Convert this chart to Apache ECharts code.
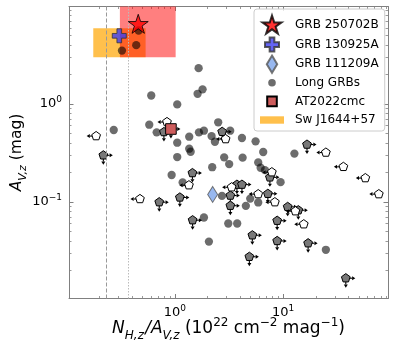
<!DOCTYPE html>
<html>
<head>
<meta charset="utf-8">
<script src="https://cdn.jsdelivr.net/npm/echarts@6/dist/echarts.min.js"></script>
<style>
  html, body { margin: 0; padding: 0; background: #fff; }
  #chart { width: 397px; height: 353px; }
</style>
</head>
<body>
<div id="chart"></div>
<script>
// values: [N_H,z / A_V,z, A_V,z]
const grb250702B = [[0.458, 6.59]];
const grb130925A = [[0.306, 4.97]];
const grb111209A = [[2.23, 0.119]];
const at2022cmc = [[0.918, 0.555]];

const longGrbs = [
  [0.462, 5.63], [0.439, 3.99], [0.324, 3.51],
  [1.655, 2.32], [1.80, 1.41], [1.62, 1.27], [0.604, 1.22], [1.05, 0.99],
  [0.272, 0.542], [0.579, 0.614], [0.678, 0.513], [2.51, 0.650], [1.05, 0.402],
  [1.355, 0.463], [1.355, 0.349], [1.397, 0.325], [1.666, 0.513], [1.853, 0.533],
  [2.18, 0.470], [2.34, 0.411], [3.24, 0.533], [4.16, 0.449],
  [1.05, 0.287], [2.85, 0.285], [3.17, 0.243], [4.22, 0.283], [2.21, 0.226],
  [0.932, 0.188], [1.178, 0.158],
  [6.54, 0.323], [5.88, 0.253], [6.19, 0.223], [6.78, 0.211], [5.56, 0.415],
  [12.7, 0.311], [9.46, 0.159],
  [2.72, 0.115], [4.96, 0.108], [5.88, 0.0986], [4.52, 0.0910], [1.853, 0.0692],
  [3.11, 0.0601], [3.76, 0.0601], [2.06, 0.0393], [24.8, 0.0324]
];

// lower limit in N_H/A_V, upper limit in A_V (grey pentagons)
const limitsGrey = [
  [0.218, 0.299], [0.791, 0.517], [2.73, 0.520], [1.45, 0.197], [0.716, 0.0993],
  [1.11, 0.111], [1.456, 0.065], [3.25, 0.116], [3.74, 0.150], [4.16, 0.150],
  [3.25, 0.0914], [7.22, 0.121], [7.54, 0.178], [11.0, 0.0889], [13.8, 0.0822],
  [8.80, 0.0642], [5.19, 0.0456], [8.80, 0.0399], [4.87, 0.0275], [17.0, 0.0378],
  [16.6, 0.385], [37.9, 0.0166]
];

// upper limit in N_H/A_V (open pentagons)
const limitsOpen = [
  [0.187, 0.470], [0.844, 0.654], [2.94, 0.438], [1.347, 0.148], [0.475, 0.107],
  [3.34, 0.141], [5.88, 0.120], [8.38, 0.0993], [7.86, 0.201], [12.97, 0.0803],
  [15.5, 0.0591], [24.8, 0.319], [36.0, 0.228], [57.4, 0.175], [76.5, 0.120]
];

// boxes: [x0, x1, y0, y1]
const swJ1644Box = [[0.176, 0.536, 3.0, 5.95]];
const grb250702BBox = [[0.31, 1.015, 3.0, 12]];

// galactic ratios (vertical reference lines)
const refLines = [0.226, 0.366];

const xRange = [0.105, 93];
const yRange = [0.0103, 9.9];
const xMajorTicks = [1, 10];
const xMinorTicks = [0.2, 0.3, 0.4, 0.5, 0.6, 0.7, 0.8, 0.9, 2, 3, 4, 5, 6, 7, 8, 9, 20, 30, 40, 50, 60, 70, 80, 90];
const yMajorTicks = [0.1, 1];
const yMinorTicks = [0.02, 0.03, 0.04, 0.05, 0.06, 0.07, 0.08, 0.09, 0.2, 0.3, 0.4, 0.5, 0.6, 0.7, 0.8, 0.9, 2, 3, 4, 5, 6, 7, 8, 9];

const FONT = "DejaVu Sans";
const AXIS_GREY = "#808080";

function starPath(cx, cy, R) {
  const r = R * 0.382;
  let d = "";
  for (let i = 0; i < 10; i++) {
    const a = -Math.PI / 2 + i * Math.PI / 5;
    const rad = i % 2 === 0 ? R : r;
    d += (i === 0 ? "M" : "L") + (cx + rad * Math.cos(a)).toFixed(2) + " " + (cy + rad * Math.sin(a)).toFixed(2) + " ";
  }
  return d + "Z";
}

function plusPath(cx, cy, h) {
  const a = h / 3;
  return `M${cx - a} ${cy - h} H${cx + a} V${cy - a} H${cx + h} V${cy + a} H${cx + a} V${cy + h} H${cx - a} V${cy + a} H${cx - h} V${cy - a} H${cx - a} Z`;
}

function diamondPath(cx, cy, w, h) {
  return `M${cx} ${cy - h} L${cx + w} ${cy} L${cx} ${cy + h} L${cx - w} ${cy} Z`;
}

function circlePath(cx, cy, r) {
  return `M${cx + r} ${cy} A${r} ${r} 0 1 1 ${cx - r} ${cy} A${r} ${r} 0 1 1 ${cx + r} ${cy} Z`;
}

// legend icons share a 30x20 box so they keep their own sizes
function legendIcon(d) {
  return "path://M0 0 M30 20 " + d;
}

function pentagon(p, R) {
  const pts = [];
  for (let i = 0; i < 5; i++) {
    const a = -Math.PI / 2 + i * 2 * Math.PI / 5;
    pts.push([p[0] + R * Math.cos(a), p[1] + R * Math.sin(a)]);
  }
  return pts;
}

function arrowShapes(p, dx, dy) {
  const len = 9.5, head = 3.2, half = 2;
  const tip = [p[0] + dx * len, p[1] + dy * len];
  const base = [tip[0] - dx * head, tip[1] - dy * head];
  return [
    { type: "line", shape: { x1: p[0], y1: p[1], x2: base[0], y2: base[1] }, style: { stroke: "#000", lineWidth: 1.1 } },
    {
      type: "polygon",
      shape: { points: [tip, [base[0] + dy * half, base[1] + dx * half], [base[0] - dy * half, base[1] - dx * half]] },
      style: { fill: "#000" }
    }
  ];
}

function limitRenderer(fill, dirs) {
  return function (params, api) {
    const p = api.coord([api.value(0), api.value(1)]);
    let children = [];
    for (const [dx, dy] of dirs) {
      children = children.concat(arrowShapes(p, dx, dy));
    }
    children.push({ type: "polygon", shape: { points: pentagon(p, 4.6) }, style: { fill: fill, stroke: "#000", lineWidth: 1 } });
    return { type: "group", children: children };
  };
}

function squareRenderer(params, api) {
  const p = api.coord([api.value(0), api.value(1)]);
  let children = arrowShapes(p, 1, 0).concat(arrowShapes(p, 0, 1));
  children.push({
    type: "rect",
    shape: { x: p[0] - 5.3, y: p[1] - 5.3, width: 10.6, height: 10.6 },
    style: { fill: "#cd5c5c", stroke: "#000", lineWidth: 1 }
  });
  return { type: "group", children: children };
}

function boxRenderer(fill) {
  return function (params, api) {
    const a = api.coord([api.value(0), api.value(3)]);
    const b = api.coord([api.value(1), api.value(2)]);
    return {
      type: "rect",
      shape: { x: a[0], y: a[1], width: b[0] - a[0], height: b[1] - a[1] },
      style: { fill: fill }
    };
  };
}

function powerLabel(value) {
  const exp = Math.round(Math.log10(value));
  return "10{sup|" + String(exp).replace("-", "\u2212") + "}";
}

const tickRich = {
  sup: { fontFamily: FONT, fontSize: 9, color: "#000", verticalAlign: "top", lineHeight: 9 }
};

function makeAxis(kind, gridIndex, position, major, withLabels) {
  const isX = kind === "x";
  const range = isX ? xRange : yRange;
  const axis = {
    type: "log",
    logBase: 10,
    gridIndex: gridIndex,
    position: position,
    min: range[0],
    max: range[1],
    splitLine: { show: false },
    axisLine: { show: major, lineStyle: { color: AXIS_GREY, width: 1 } },
    axisTick: {
      show: true,
      inside: true,
      length: major ? 4.5 : 2.5,
      customValues: major ? (isX ? xMajorTicks : yMajorTicks) : (isX ? xMinorTicks : yMinorTicks),
      lineStyle: { color: AXIS_GREY, width: major ? 1 : 0.8 }
    },
    axisLabel: { show: false }
  };
  if (withLabels) {
    axis.axisLabel = {
      show: true,
      customValues: isX ? xMajorTicks : yMajorTicks,
      formatter: powerLabel,
      fontFamily: FONT,
      fontSize: 13,
      lineHeight: 17,
      color: "#000",
      margin: isX ? 6 : 7,
      rich: tickRich
    };
  }
  return axis;
}

function nameRich(size, small) {
  return {
    i: { fontFamily: FONT, fontSize: size, fontStyle: "italic", color: "#000", lineHeight: size + 8 },
    isub: { fontFamily: FONT, fontSize: small, fontStyle: "italic", color: "#000", verticalAlign: "bottom", lineHeight: small + 4 },
    n: { fontFamily: FONT, fontSize: size, color: "#000", lineHeight: size + 8 },
    sup: { fontFamily: FONT, fontSize: small, color: "#000", verticalAlign: "top", lineHeight: small + 2 },
    sp: { fontFamily: FONT, fontSize: 4, lineHeight: 4 }
  };
}

const xAxes = [
  makeAxis("x", 0, "bottom", true, true),
  makeAxis("x", 0, "top", true, false),
  makeAxis("x", 1, "bottom", false, false),
  makeAxis("x", 1, "top", false, false)
];
Object.assign(xAxes[0], {
  name: "{i|N}{isub|H,z}{sp| }{i|/A}{isub|V,z}{n| (10}{sup|22}{n| cm}{sup|\u22122}{n| mag}{sup|\u22121}{n|)}",
  nameLocation: "middle",
  nameGap: 18,
  nameMoveOverlap: false,
  nameTextStyle: { rich: nameRich(17, 12), align: "center" }
});

const yAxes = [
  makeAxis("y", 0, "left", true, true),
  makeAxis("y", 0, "right", true, false),
  makeAxis("y", 1, "left", false, false),
  makeAxis("y", 1, "right", false, false)
];
Object.assign(yAxes[0], {
  name: "{i|A}{isub|V,z}{n| (mag)}",
  nameLocation: "middle",
  nameRotate: 90,
  nameGap: 40,
  nameMoveOverlap: false,
  nameTextStyle: { rich: nameRich(15.5, 11), align: "center" }
});

const gridRect = { left: 69, right: 9, top: 6.5, bottom: 54.5, containLabel: false, outerBoundsMode: "none" };

const chart = echarts.init(document.getElementById("chart"), null, { renderer: "canvas" });

chart.setOption({
  animation: false,
  backgroundColor: "#fff",
  grid: [Object.assign({}, gridRect), Object.assign({}, gridRect)],
  xAxis: xAxes,
  yAxis: yAxes,
  legend: {
    orient: "vertical",
    left: 254,
    top: 9,
    itemWidth: 30,
    itemHeight: 20,
    itemGap: -2.4,
    padding: [5, 6, 1, 5],
    backgroundColor: "rgba(255,255,255,0.8)",
    borderColor: "#cccccc",
    borderWidth: 1,
    borderRadius: 3,
    textStyle: { fontFamily: FONT, fontSize: 12, color: "#000" },
    data: [
      { name: "GRB 250702B", icon: legendIcon(starPath(12, 10.5, 10)) },
      { name: "GRB 130925A", icon: legendIcon(plusPath(12, 10, 7)) },
      { name: "GRB 111209A", icon: legendIcon(diamondPath(12, 10, 5.2, 8.6)) },
      { name: "Long GRBs", icon: legendIcon(circlePath(12, 10, 3.8)) },
      { name: "AT2022cmc", icon: legendIcon(`M7.2 5.2 H16.8 V14.8 H7.2 Z`) },
      { name: "Sw J1644+57", icon: legendIcon(`M0 6.3 H24 V13.7 H0 Z`) }
    ]
  },
  series: [
    {
      name: "Sw J1644+57",
      type: "custom",
      clip: true,
      encode: { x: [0, 1], y: [2, 3] },
      itemStyle: { color: "rgba(255,165,0,0.7)" },
      renderItem: boxRenderer("rgba(255,165,0,0.7)"),
      data: swJ1644Box,
      z: 1
    },
    {
      name: "GRB 250702B box",
      type: "custom",
      clip: true,
      encode: { x: [0, 1], y: [2, 3] },
      renderItem: boxRenderer("rgba(255,0,0,0.5)"),
      data: grb250702BBox,
      z: 2
    },
    {
      name: "Long GRBs",
      type: "scatter",
      symbol: "circle",
      symbolSize: 8.3,
      itemStyle: { color: "rgba(0,0,0,0.72)" },
      data: longGrbs,
      markLine: {
        silent: true,
        symbol: ["none", "none"],
        label: { show: false },
        data: [
          { xAxis: refLines[0], lineStyle: { color: "#999", width: 1, type: [4, 2] } },
          { xAxis: refLines[1], lineStyle: { color: "#bbb", width: 1, type: [1.5, 1.5] } }
        ]
      },
      z: 3
    },
    {
      name: "limits grey",
      type: "custom",
      renderItem: limitRenderer("#787878", [[1, 0], [0, 1]]),
      data: limitsGrey,
      z: 4
    },
    {
      name: "limits open",
      type: "custom",
      renderItem: limitRenderer("#ffffff", [[-1, 0]]),
      data: limitsOpen,
      z: 4
    },
    {
      name: "AT2022cmc",
      type: "custom",
      itemStyle: { color: "#cd5c5c", borderColor: "#000", borderWidth: 1 },
      renderItem: squareRenderer,
      data: at2022cmc,
      z: 5
    },
    {
      name: "GRB 111209A",
      type: "scatter",
      symbol: "path://" + diamondPath(0, 0, 5, 8),
      symbolSize: [10, 16],
      itemStyle: { color: "#7ea6ec", borderColor: "#555", borderWidth: 1 },
      data: grb111209A,
      z: 6
    },
    {
      name: "GRB 130925A",
      type: "scatter",
      symbol: "path://" + plusPath(0, 0, 3),
      symbolSize: 14,
      itemStyle: { color: "#3d3df2", borderColor: "#333", borderWidth: 1 },
      data: grb130925A,
      z: 7
    },
    {
      name: "GRB 250702B",
      type: "scatter",
      symbol: "path://" + starPath(0, 0, 10),
      symbolKeepAspect: true,
      symbolSize: 20,
      itemStyle: { color: "#ff0000", borderColor: "#000", borderWidth: 1 },
      data: grb250702B,
      z: 8
    }
  ]
});
</script>
</body>
</html>
